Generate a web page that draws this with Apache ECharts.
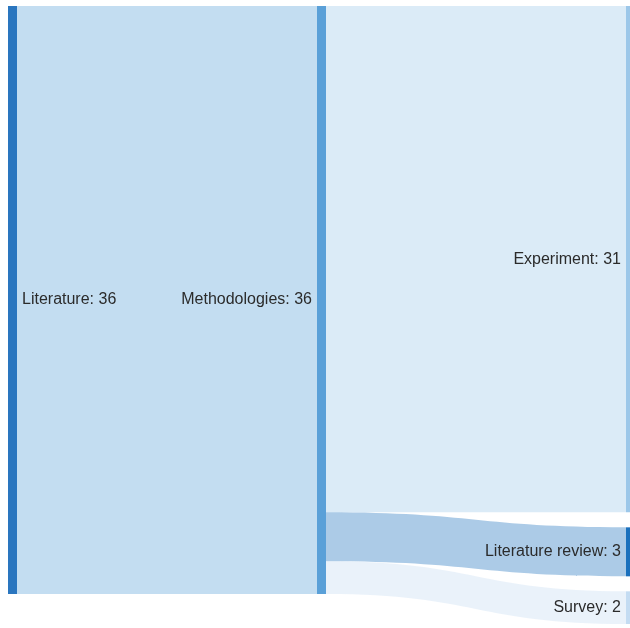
<!DOCTYPE html>
<html><head><meta charset="utf-8">
<script src="https://cdn.jsdelivr.net/npm/echarts@6/dist/echarts.min.js"></script>
<style>html,body{margin:0;padding:0;background:#fff}#c{width:630px;height:628px}</style>
</head><body><div id="c"></div>
<script>
const nodeNames = ['Literature', 'Methodologies', 'Experiment', 'Literature review', 'Survey'];
const nodeColors = ['#2a76bf', '#5aa0d8', '#9cc7e9', '#1a70bd', '#c4dcf2'];
const labelSides = ['right', 'left', 'left', 'left', 'left'];
const linkSources = ['Literature', 'Methodologies', 'Methodologies', 'Methodologies'];
const linkTargets = ['Methodologies', 'Experiment', 'Literature review', 'Survey'];
const linkValues = [36, 31, 3, 2];

const chart = echarts.init(document.getElementById('c'));
chart.setOption({
  animation: false,
  series: [{
    type: 'sankey',
    left: 8, right: -5, top: 6, bottom: 4,
    nodeWidth: 9,
    nodeGap: 15,
    layoutIterations: 0,
    emphasis: { disabled: true },
    data: nodeNames.map((n, i) => ({
      name: n,
      itemStyle: { color: nodeColors[i], borderWidth: 0 },
      label: { position: labelSides[i] }
    })),
    links: linkSources.map((s, i) => ({ source: s, target: linkTargets[i], value: linkValues[i] })),
    label: {
      formatter: '{b}: {c}',
      fontFamily: 'Liberation Sans, Arial, sans-serif',
      fontSize: 16,
      color: '#2b2b2b',
      distance: 5
    },
    lineStyle: { color: 'target', opacity: 0.36, curveness: 0.5 }
  }]
});
</script></body></html>
